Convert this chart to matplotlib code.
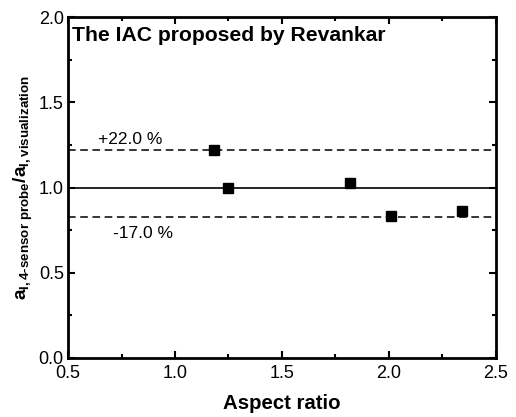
import matplotlib.pyplot as plt
from matplotlib.ticker import MultipleLocator

plt.rcParams['font.family'] = 'Liberation Sans'
plt.rcParams['mathtext.fontset'] = 'custom'
plt.rcParams['mathtext.rm'] = 'Liberation Sans:bold'
plt.rcParams['mathtext.it'] = 'Liberation Sans:bold'
plt.rcParams['mathtext.bf'] = 'Liberation Sans:bold'

# datos
aspecto = [1.18, 1.25, 1.82, 2.01, 2.34]
cociente = [1.22, 0.997, 1.027, 0.833, 0.862]
limite_sup = 1.22
limite_inf = 0.83
etiqueta_sup = '+22.0 %'
etiqueta_inf = '-17.0 %'

fig = plt.figure(figsize=(5.16, 4.17), dpi=100)
ax = fig.add_axes([0.1318, 0.1415, 0.8294, 0.8175])

ax.axhline(1.0, color='black', lw=1.2)
ax.axhline(limite_sup, color='black', lw=1.1, ls=(0, (5, 3)))
ax.axhline(limite_inf, color='black', lw=1.1, ls=(0, (5, 3)))
ax.plot(aspecto, cociente, 's', color='black', ms=7.5)

ax.text(0.64, 1.24, etiqueta_sup, fontsize=12.5, va='bottom')
ax.text(0.71, 0.775, etiqueta_inf, fontsize=12.5, va='top')
ax.text(0.52, 1.95, 'The IAC proposed by Revankar', fontsize=15.2,
        fontweight='bold', va='top')

ax.set_xlim(0.5, 2.5)
ax.set_ylim(0.0, 2.0)
ax.xaxis.set_major_locator(MultipleLocator(0.5))
ax.xaxis.set_minor_locator(MultipleLocator(0.25))
ax.yaxis.set_major_locator(MultipleLocator(0.5))
ax.yaxis.set_minor_locator(MultipleLocator(0.25))
ax.tick_params(which='both', direction='in', top=True, right=True,
               labelsize=13, width=1.5)
ax.tick_params(which='major', length=5)
ax.tick_params(which='minor', length=3)
ax.tick_params(axis='x', pad=5)
ax.tick_params(axis='y', pad=3)
for s in ax.spines.values():
    s.set_linewidth(2)

ax.set_xlabel('Aspect ratio', fontsize=14.7, fontweight='bold', labelpad=9)
ax.set_ylabel(r'$a_{l,4\text{-}sensor\ probe}/a_{l,visualization}$',
              fontsize=13.8, labelpad=3)

fig.savefig('out.png', dpi=100)
